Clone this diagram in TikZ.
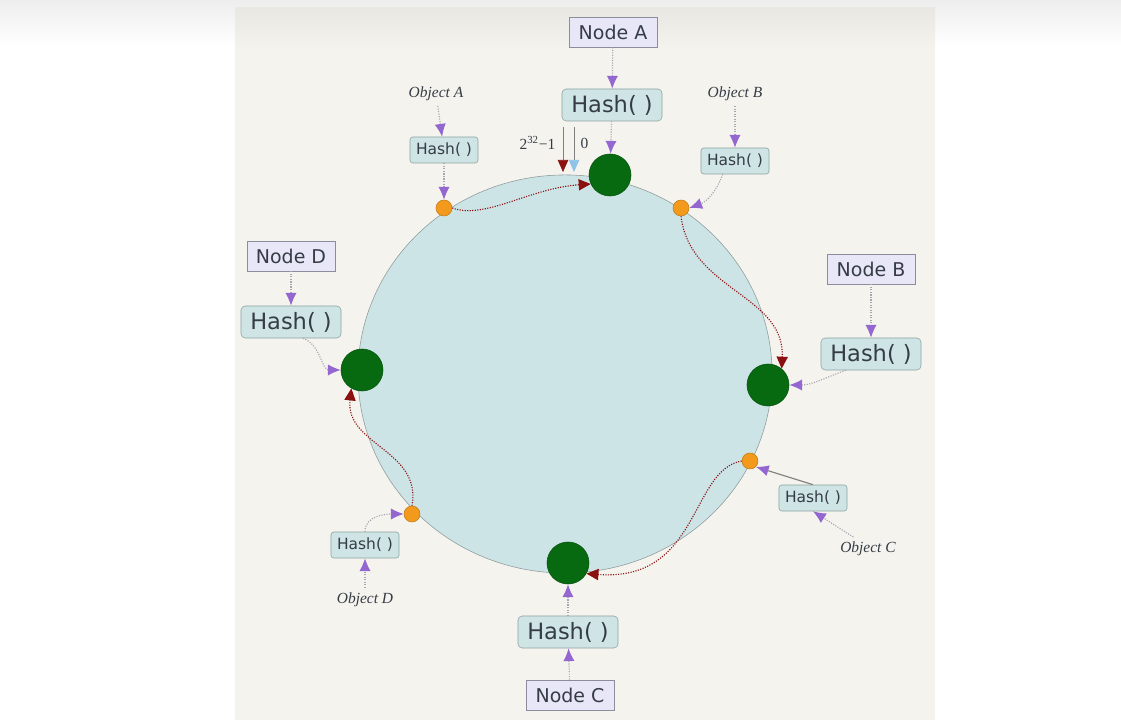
\documentclass[tikz,border=0pt]{standalone}
\usepackage{fontspec}
\setmainfont{Liberation Serif}
\setsansfont{DejaVu Sans}
\usetikzlibrary{arrows.meta, shapes.geometric, positioning}

\definecolor{paper}{HTML}{F5F3EE}
\definecolor{ringfill}{HTML}{CDE4E7}
\definecolor{ringline}{HTML}{8E9A9A}
\definecolor{boxfill}{HTML}{E7E7F8}
\definecolor{boxline}{HTML}{8C8C9C}
\definecolor{hashfill}{HTML}{CFE4E4}
\definecolor{hashline}{HTML}{8CA2A2}
\definecolor{inkgray}{HTML}{353C44}
\definecolor{tippurple}{HTML}{9467D0}
\definecolor{shaftgray}{HTML}{A8A4B0}
\definecolor{servergreen}{HTML}{076A10}
\definecolor{keyorange}{HTML}{F39A1C}
\definecolor{hopred}{HTML}{8B1010}
\definecolor{zeroblue}{HTML}{8FC3E8}

\begin{document}
\begin{tikzpicture}[
    x=0.025cm, y=0.025cm,
    every node/.style={text=inkgray},
    nodebox/.style={rectangle, draw=boxline, fill=boxfill, minimum width=2.2cm, minimum height=0.75cm, font=\sffamily\fontsize{13.5}{14}\selectfont},
    hashbig/.style={rectangle, draw=hashline, fill=hashfill, rounded corners=3pt, minimum width=2.5cm, minimum height=0.8cm, font=\sffamily\fontsize{16}{17}\selectfont},
    hashsmall/.style={rectangle, draw=hashline, fill=hashfill, rounded corners=2pt, minimum width=1.7cm, minimum height=0.65cm, inner sep=1pt, font=\sffamily\fontsize{11}{12}\selectfont},
    objlabel/.style={font=\itshape\fontsize{11}{12}\selectfont},
    server/.style={circle, fill=servergreen, draw=servergreen!80!black, minimum size=1.05cm, inner sep=0pt},
    objkey/.style={circle, fill=keyorange, draw=keyorange!80!black, minimum size=0.4cm, inner sep=0pt},
    feed/.style={densely dotted, shaftgray, thick, -{Latex[length=3.2mm, width=2.8mm, color=tippurple]}},
    hop/.style={densely dotted, hopred, thick, -{Triangle[length=3mm, width=2.8mm, color=hopred]}}
]
    % canvas
    \useasboundingbox (0,0) rectangle (1121,-727);
    \fill[white] (0,0) rectangle (1121,-727);
    \shade[top color=black!7, bottom color=white] (0,0) rectangle (1121,-45);
    \fill[paper] (235,-8) rectangle (935,-720);
    \shade[top color=black!5!paper, bottom color=paper] (235,-8) rectangle (935,-50);

    % hash ring
    \node[ellipse, draw=ringline, fill=ringfill, minimum width=10.35cm, minimum height=9.95cm, inner sep=0pt] (ring) at (565,-374) {};

    % servers on the ring
    \node[server] (greenA) at (610,-175) {};
    \node[server] (greenB) at (768,-385) {};
    \node[server] (greenC) at (568,-563) {};
    \node[server] (greenD) at (362,-370) {};

    % objects on the ring
    \node[objkey] (orangeA) at (444,-208) {};
    \node[objkey] (orangeB) at (681,-208) {};
    \node[objkey] (orangeC) at (750,-461) {};
    \node[objkey] (orangeD) at (412,-514) {};

    % server labels
    \node[nodebox] (nodeA) at (613,-32) {Node A};
    \node[hashbig] (hashA) at (612,-105) {Hash( )};
    \node[nodebox] (nodeB) at (871,-269) {Node B};
    \node[hashbig] (hashB) at (871,-354) {Hash( )};
    \node[hashbig] (hashC) at (568,-632) {Hash( )};
    \node[nodebox] (nodeC) at (570,-695) {Node C};
    \node[nodebox] (nodeD) at (291,-256) {Node D};
    \node[hashbig] (hashD) at (291,-322) {Hash( )};

    % object labels
    \node[objlabel] (objA) at (436,-94) {Object A};
    \node[hashsmall] (hashSA) at (444,-150) {Hash( )};
    \node[objlabel] (objB) at (735,-94) {Object B};
    \node[hashsmall] (hashSB) at (735,-161) {Hash( )};
    \node[hashsmall] (hashSC) at (813,-498) {Hash( )};
    \node[objlabel] (objC) at (868,-549) {Object C};
    \node[hashsmall] (hashSD) at (365,-545) {Hash( )};
    \node[objlabel] (objD) at (365,-600) {Object D};

    % start of the ring
    \coordinate (maxTop) at (563,-127);
    \coordinate (maxEnd) at (563,-172);
    \coordinate (zeroTop) at (574,-127);
    \coordinate (zeroEnd) at (574,-172);
    \node[anchor=east, inner sep=1pt, font=\fontsize{11}{12}\selectfont] (maxLabel) at (557,-143) {2\textsuperscript{32}−1};
    \node[anchor=west, inner sep=1pt, font=\fontsize{11}{12}\selectfont] (zeroLabel) at (579,-143) {0};
    \draw[gray, -{Triangle[length=3mm, width=2.6mm, color=hopred]}] (maxTop) -- (maxEnd);
    \draw[gray, -{Triangle[length=3mm, width=2.6mm, color=zeroblue]}] (zeroTop) -- (zeroEnd);

    % hashing servers
    \draw[feed] (nodeA) -- (hashA);
    \draw[feed] (hashA) -- (greenA);
    \draw[feed] (nodeB) -- (hashB);
    \draw[feed] (hashB.south west) ++(25,0) to[out=200, in=0] (greenB.east);
    \draw[feed] (nodeC) -- (hashC);
    \draw[feed] (hashC) -- (greenC);
    \draw[feed] (nodeD) -- (hashD);
    \draw[feed] (hashD.south) ++(12,0) to[out=-20, in=180] (greenD.west);

    % hashing objects
    \draw[feed] (objA) -- (hashSA);
    \draw[feed] (hashSA) -- (orangeA);
    \draw[feed] (objB) -- (hashSB);
    \draw[feed] (hashSB.south west) ++(22,0) to[out=-110, in=20] (orangeB.east);
    \draw[feed] (objC.north west) ++(18,0) -- (hashSC.south);
    \draw[solid, gray, thick, -{Latex[length=3.2mm, width=2.8mm, color=tippurple]}] (hashSC.north) -- (orangeC.south east);
    \draw[feed] (objD) -- (hashSD);
    \draw[feed] (hashSD.north) to[out=90, in=180] (orangeD.west);

    % clockwise lookup
    \draw[hop] (orangeA.east) .. controls (485,-220) and (530,-188) .. (greenA.205);
    \draw[hop] (orangeB.south) .. controls (690,-290) and (785,-295) .. (greenB.50);
    \draw[hop] (orangeC.west) .. controls (690,-470) and (700,-582) .. (greenC.-30);
    \draw[hop] (orangeD.north) .. controls (422,-450) and (345,-445) .. (greenD.-120);
\end{tikzpicture}
\end{document}
